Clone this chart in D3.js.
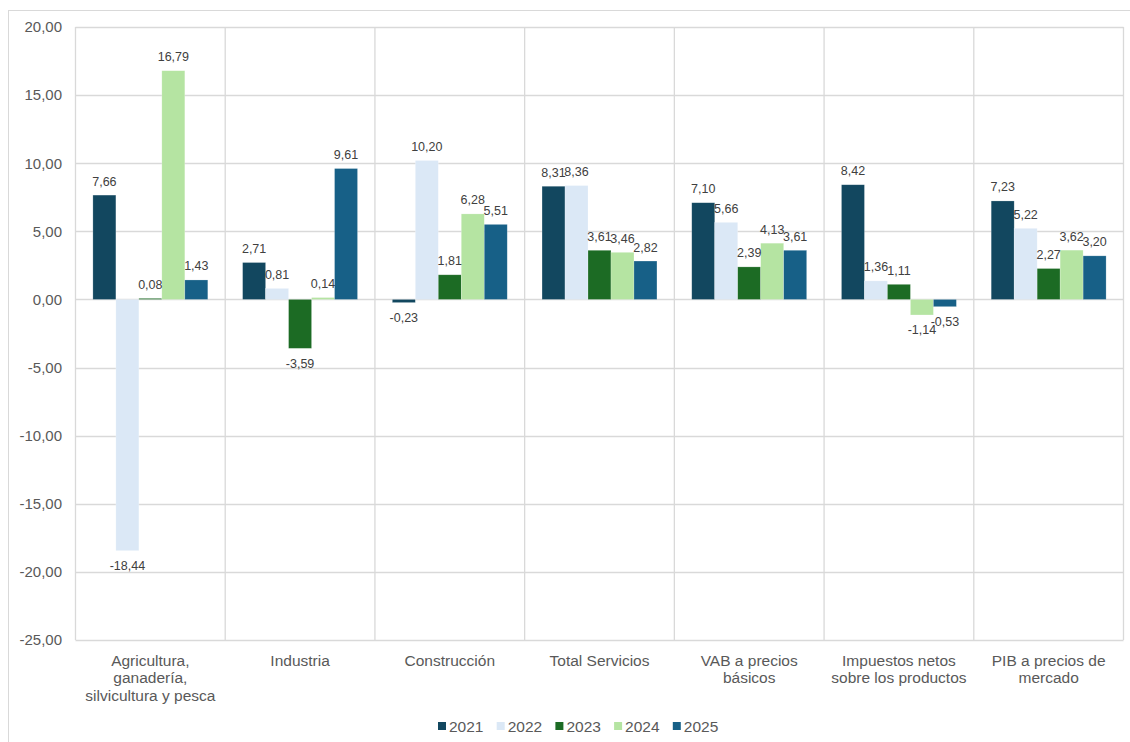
<!DOCTYPE html>
<html>
<head>
<meta charset="utf-8">
<script src="https://cdn.jsdelivr.net/npm/d3@7"></script>
<style>
  html, body { margin: 0; padding: 0; background: #ffffff; }
  svg { display: block; font-family: "Liberation Sans", Arial, sans-serif; }
</style>
</head>
<body>
<svg id="chart" width="1130" height="742"></svg>
<script>
// Sector growth rates (%), one array per year
const categories = [
  ["Agricultura,", "ganadería,", "silvicultura y pesca"],
  ["Industria"],
  ["Construcción"],
  ["Total Servicios"],
  ["VAB a precios", "básicos"],
  ["Impuestos netos", "sobre los productos"],
  ["PIB a precios de", "mercado"]
];
const years = ["2021", "2022", "2023", "2024", "2025"];
const values2021 = [7.66, 2.71, -0.23, 8.31, 7.10, 8.42, 7.23];
const values2022 = [-18.44, 0.81, 10.20, 8.36, 5.66, 1.36, 5.22];
const values2023 = [0.08, -3.59, 1.81, 3.61, 2.39, 1.11, 2.27];
const values2024 = [16.79, 0.14, 6.28, 3.46, 4.13, -1.14, 3.62];
const values2025 = [1.43, 9.61, 5.51, 2.82, 3.61, -0.53, 3.20];
const yTicks = [20, 15, 10, 5, 0, -5, -10, -15, -20, -25];
const colors = ["#12475f", "#dbe8f6", "#1c6b24", "#b5e4a2", "#176087"];

const seriesValues = [values2021, values2022, values2023, values2024, values2025];
// Spanish number format: comma decimals, plain hyphen for negatives
const fmt = v => d3.format(".2f")(v).replace(".", ",").replace("\u2212", "-");

const svg = d3.select("#chart");
const plot = { left: 75.5, right: 1123.5, top: 27, bottom: 640 };

// outer chart frame
svg.append("rect")
  .attr("x", 8.5).attr("y", 10.5)
  .attr("width", 1130).attr("height", 760)
  .attr("fill", "none").attr("stroke", "#d9d9d9").attr("stroke-width", 1);

const catIdx = d3.range(categories.length);
const x0 = d3.scaleBand().domain(catIdx).range([plot.left, plot.right]).padding(0);
const gap = 17.4;
const x1 = d3.scaleBand().domain(years).range([gap, x0.bandwidth() - gap]).padding(0);
const y = d3.scaleLinear().domain([-25, 20]).range([plot.bottom, plot.top]);

// horizontal gridlines
svg.append("g").selectAll("line").data(yTicks).join("line")
  .attr("x1", plot.left).attr("x2", plot.right)
  .attr("y1", d => Math.round(y(d)) + 0.5).attr("y2", d => Math.round(y(d)) + 0.5)
  .attr("stroke", "#d9d9d9").attr("stroke-width", 1.3);

// vertical category separators
const seps = catIdx.map(i => x0(i)).concat([plot.right]);
svg.append("g").selectAll("line").data(seps).join("line")
  .attr("x1", d => d).attr("x2", d => d)
  .attr("y1", plot.top).attr("y2", plot.bottom)
  .attr("stroke", "#d9d9d9").attr("stroke-width", 1.3);

// y axis labels
const yAxis = d3.axisLeft(y).tickValues(yTicks).tickFormat(fmt).tickSize(0).tickPadding(0);
const gy = svg.append("g").attr("transform", `translate(62,0)`).call(yAxis);
gy.select(".domain").remove();
gy.selectAll("text")
  .attr("font-family", "Liberation Sans, Arial, sans-serif")
  .attr("font-size", 15).attr("fill", "#595959");

// bars
const groups = svg.append("g").selectAll("g").data(catIdx).join("g")
  .attr("transform", i => `translate(${x0(i)},0)`);

years.forEach((yr, s) => {
  groups.append("rect")
    .attr("x", x1(yr))
    .attr("width", x1.bandwidth())
    .attr("y", i => y(Math.max(0, seriesValues[s][i])))
    .attr("height", i => Math.abs(y(seriesValues[s][i]) - y(0)))
    .attr("fill", colors[s])
    .attr("stroke", "#ffffff").attr("stroke-opacity", 0.35).attr("stroke-width", 0.6);
});

// value labels
years.forEach((yr, s) => {
  groups.append("text")
    .attr("x", x1(yr) + x1.bandwidth() / 2)
    .attr("y", i => {
      const v = seriesValues[s][i];
      return v >= 0 ? y(v) - 9.5 : y(v) + 19.5;
    })
    .attr("text-anchor", "middle")
    .attr("font-size", 12.5).attr("fill", "#404040")
    .text(i => fmt(seriesValues[s][i]));
});

// category labels
const catText = svg.append("g").selectAll("text").data(catIdx).join("text")
  .attr("x", i => x0(i) + x0.bandwidth() / 2)
  .attr("y", 665.5)
  .attr("text-anchor", "middle")
  .attr("font-size", 15.5).attr("fill", "#595959");
catText.each(function(i) {
  d3.select(this).selectAll("tspan").data(categories[i]).join("tspan")
    .attr("x", x0(i) + x0.bandwidth() / 2)
    .attr("dy", (d, k) => k === 0 ? 0 : 17.5)
    .text(d => d);
});

// legend
const legendX = d3.scaleBand().domain(years).range([438, 731.5]);
const lg = svg.append("g").selectAll("g").data(years).join("g")
  .attr("transform", d => `translate(${legendX(d)},0)`);
lg.append("rect").attr("x", 0).attr("y", 722).attr("width", 8).attr("height", 8)
  .attr("fill", (d, k) => colors[k]);
lg.append("text").attr("x", 11).attr("y", 731.5)
  .attr("font-size", 15.5).attr("fill", "#595959").text(d => d);
</script>
</body>
</html>
